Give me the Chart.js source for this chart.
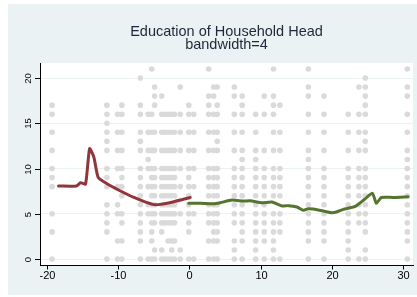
<!DOCTYPE html>
<html>
<head>
<meta charset="utf-8">
<script src="https://cdn.jsdelivr.net/npm/chart.js@4"></script>
<style>
html,body{margin:0;padding:0;background:#fff;}
#wrap{width:417px;height:297px;}
</style>
</head>
<body>
<div id="wrap"><canvas id="c" width="417" height="297"></canvas></div>
<script>
// Title
const titleLines = ['Education of Household Head', 'bandwidth=4'];
// Tick labels
const xTicks = [-20, -10, 0, 10, 20, 30];
const yTicks = [0, 5, 10, 15, 20];

// Scatter: column x positions and education values at each column
const dotX = [-19.3, -11.6, -10.1, -9.5, -6.9, -5.8, -5.3, -4.9, -3.9, -3.5, -3.0, -2.5, -2.1, -1.3, -0.1, 0.6,
              2.7, 3.4, 3.9, 6.3, 7.4, 9.3, 10.5, 11.8, 12.7, 16.7, 18.9, 22.3, 23.8, 24.7, 30.6];
const dotY = [
  [0,3,5,8,9,10,12,14,16,17],
  [0,3,4,5,6,8,9,10,12,13,14,15,16,17],
  [0,2,5,6,8,10,12,14,16],
  [0,2,4,5,7,8,9,10,12,14,16,17],
  [0,2,3,4,5,6,7,8,9,10,12,13,14,16,17,20],
  [0,5,6,8,10,11,12,14,16],
  [0,2,3,4,5,6,7,8,9,10,12,14,16,21],
  [0,1,4,5,6,7,8,9,10,12,14,17,18,19],
  [0,1,3,4,5,6,7,8,9,10,12,14,16,18],
  [0,4,5,6,7,8,9,10,12,14,16],
  [0,2,4,5,6,7,8,9,10,12,14,16],
  [0,1,2,4,5,6,7,8,9,10,12,14,16],
  [0,2,4,5,6,7,8,9,10,12,14,16],
  [0,1,5,8,10,12,14,16,19],
  [0,3,4,5,6,7,8,9,10,12,14,16,17],
  [0,5,8,10,12,14,16],
  [0,2,4,5,6,7,8,9,10,12,14,16,17,18,21],
  [0,2,3,4,5,6,7,8,9,10,12,14,16,18,19],
  [0,2,3,4,5,6,7,8,9,10,12,13,14,16,17,19],
  [0,1,2,4,5,6,7,8,9,10,12,14,16,18,19],
  [0,2,3,4,5,6,7,8,9,10,11,12,14,16,17,18],
  [0,1,2,3,4,5,6,7,8,9,10,11,12,14,16],
  [0,2,3,4,5,6,7,8,9,10,12,16,18],
  [0,1,2,3,4,5,7,8,9,10,12,14,16,17,18,21],
  [0,3,4,5,7,8,9,10,12,14,17],
  [0,2,3,4,5,6,7,8,9,10,11,12,14,16,18,19,21],
  [0,2,3,4,5,6,7,8,9,10,12,14,16,18],
  [0,1,2,3,4,5,6,7,8,9,10,12,14,16],
  [0,4,5,6,7,8,9,10,12,14,16,19],
  [0,1,3,4,5,6,7,8,9,10,12,13,14,16,17,18,19,20],
  [0,2,3,4,5,6,7,8,9,10,11,12,14,16,18,19,21]
];

// Local fit, left of cutoff (maroon)
const leftX = [-18.4, -15.9, -15.3, -14.6, -14.03, -13.43, -12.83, -11.8, -9.9, -7.8, -5.2, -4.05, -2.2, 0.1];
const leftY = [8.07, 8.07, 8.43, 8.29, 12.2, 11.25, 9.02, 8.43, 7.6, 6.8, 6.04, 6.04, 6.33, 6.8];
// Local fit, right of cutoff (green)
const rightX = [-0.1, 1.54, 3.4, 4.3, 5.97, 7.6, 8.5, 10.2, 11.6, 13.0, 13.9, 15.1, 16.0, 16.7, 17.4, 18.8, 19.95, 20.65, 21.6, 23.2, 24.6, 25.7, 26.25, 26.95, 28.6, 30.7];
const rightY = [6.15, 6.15, 6.1, 6.22, 6.52, 6.4, 6.44, 6.22, 6.29, 5.86, 5.9, 5.75, 5.38, 5.56, 5.52, 5.3, 5.12, 5.2, 5.49, 5.78, 6.6, 7.26, 6.15, 6.8, 6.8, 6.88];

const BG = 'rgb(234,242,243)';
const dots = [];
dotX.forEach((x, i) => dotY[i].forEach(y => dots.push({x: x, y: y})));
const toPts = (xs, ys) => xs.map((x, i) => ({x: x, y: ys[i]}));

const decor = {
  id: 'decor',
  beforeDraw(chart) {
    const ctx = chart.ctx, a = chart.chartArea;
    ctx.save();
    ctx.fillStyle = '#ffffff';
    ctx.fillRect(0, 0, chart.width, chart.height);
    ctx.fillStyle = BG;
    ctx.fillRect(8, 4, chart.width - 8, 291);
    ctx.fillStyle = '#ffffff';
    ctx.fillRect(a.left, a.top, a.right - a.left, a.bottom - a.top);
    ctx.restore();
  },
  afterDraw(chart) {
    const ctx = chart.ctx, a = chart.chartArea;
    const xs = chart.scales.x, ys = chart.scales.y;
    ctx.save();
    ctx.strokeStyle = '#000';
    ctx.lineWidth = 1;
    ctx.fillStyle = '#000';
    // x ticks
    ctx.font = '11px "Liberation Sans", Arial, sans-serif';
    ctx.textAlign = 'center';
    ctx.textBaseline = 'alphabetic';
    xTicks.forEach(v => {
      const px = Math.round(xs.getPixelForValue(v)) + 0.5;
      ctx.beginPath(); ctx.moveTo(px, a.bottom); ctx.lineTo(px, a.bottom + 4.5); ctx.stroke();
      ctx.fillText(String(v), px, a.bottom + 14);
    });
    // y ticks (rotated labels)
    ctx.font = '9.5px "Liberation Sans", Arial, sans-serif';
    yTicks.forEach(v => {
      const py = Math.round(ys.getPixelForValue(v)) + 0.5;
      ctx.beginPath(); ctx.moveTo(a.left - 5, py); ctx.lineTo(a.left, py); ctx.stroke();
      ctx.save();
      ctx.translate(a.left - 12, py);
      ctx.rotate(-Math.PI / 2);
      ctx.textAlign = 'center';
      ctx.textBaseline = 'middle';
      ctx.fillText(String(v), 0, 0);
      ctx.restore();
    });
    // title
    ctx.fillStyle = '#1f2738';
    ctx.font = '14.5px "Liberation Sans", Arial, sans-serif';
    ctx.textAlign = 'center';
    ctx.textBaseline = 'alphabetic';
    const cx = (a.left + a.right) / 2;
    ctx.fillText(titleLines[0], cx, 35.7);
    ctx.fillText(titleLines[1], cx, 49);
    ctx.restore();
  }
};

new Chart(document.getElementById('c'), {
  type: 'scatter',
  data: {
    datasets: [
      {type: 'line', data: toPts(leftX, leftY), borderColor: 'rgb(144,53,59)', borderWidth: 3,
       pointRadius: 0, fill: false, tension: 0.2, order: 0, borderCapStyle: 'round', borderJoinStyle: 'round'},
      {type: 'line', data: toPts(rightX, rightY), borderColor: 'rgb(85,117,47)', borderWidth: 3,
       pointRadius: 0, fill: false, tension: 0.2, order: 1, borderCapStyle: 'round', borderJoinStyle: 'round'},
      {type: 'scatter', data: dots, backgroundColor: 'rgb(218,218,218)', borderWidth: 0,
       pointRadius: 2.8, order: 2}
    ]
  },
  options: {
    responsive: false,
    animation: false,
    events: [],
    layout: {padding: {left: 40, top: 63, right: 3, bottom: 32}},
    plugins: {legend: {display: false}, tooltip: {enabled: false}, title: {display: false}},
    scales: {
      x: {
        type: 'linear', min: -21, max: 31.4,
        ticks: {display: false},
        grid: {display: true, drawOnChartArea: false, drawTicks: false},
        border: {display: true, color: '#000', width: 1}
      },
      y: {
        type: 'linear', min: -0.66, max: 21.66,
        afterBuildTicks: s => { s.ticks = yTicks.map(v => ({value: v})); },
        ticks: {display: false},
        grid: {color: BG, lineWidth: 1, drawTicks: false},
        border: {display: true, color: '#000', width: 1}
      }
    }
  },
  plugins: [decor]
});
</script>
</body>
</html>
